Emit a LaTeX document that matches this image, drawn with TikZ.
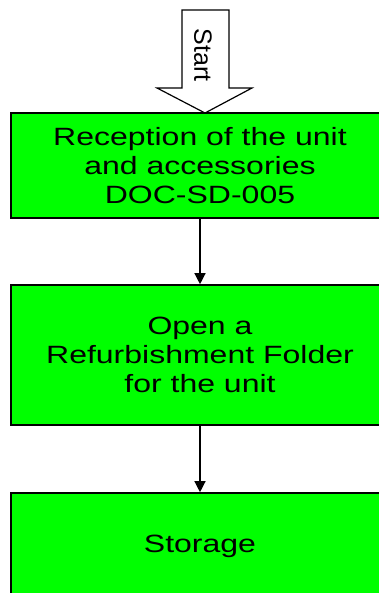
\documentclass[tikz,border=0pt]{standalone}
\usepackage{fontspec}
\setmainfont{Liberation Sans}
\newfontfamily\boxfont[FakeStretch=1.28]{Liberation Sans}
\usetikzlibrary{arrows.meta}
\definecolor{stepgreen}{RGB}{0,255,0}
\begin{document}
\begin{tikzpicture}[x=1pt,y=-1pt,
  stepbox/.style={draw=black, line width=1.6pt, fill=stepgreen, minimum width=378pt,
    align=center, font=\boxfont\fontsize{25}{28.8}\selectfont, inner sep=0pt},
  flow/.style={line width=1.3pt, -{Triangle[length=11pt,width=11pt]}}]
  \useasboundingbox (0,0) rectangle (378,593);
  % start arrow
  \draw[fill=white, line width=1.2pt] (182,10) -- (229,10) -- (229,88) -- (252,88)
    -- (205,113) -- (157,88) -- (182,88) -- cycle;
  \node[rotate=-90, font=\fontsize{25}{30}\selectfont, inner sep=0pt] (start) at (203,55) {Start};
  % process steps
  \node[stepbox, minimum height=105pt] (recv) at (200,165.5)
    {Reception of the unit\\and accessories\\DOC-SD-005};
  \node[stepbox, minimum height=140pt] (open) at (200,355)
    {Open a\\Refurbishment Folder\\for the unit};
  \node[stepbox, minimum height=106pt] (store) at (200,546) {Storage};
  % connectors
  \draw[flow] (recv.south) -- (open.north);
  \draw[flow] (open.south) -- (store.north);
\end{tikzpicture}
\end{document}
